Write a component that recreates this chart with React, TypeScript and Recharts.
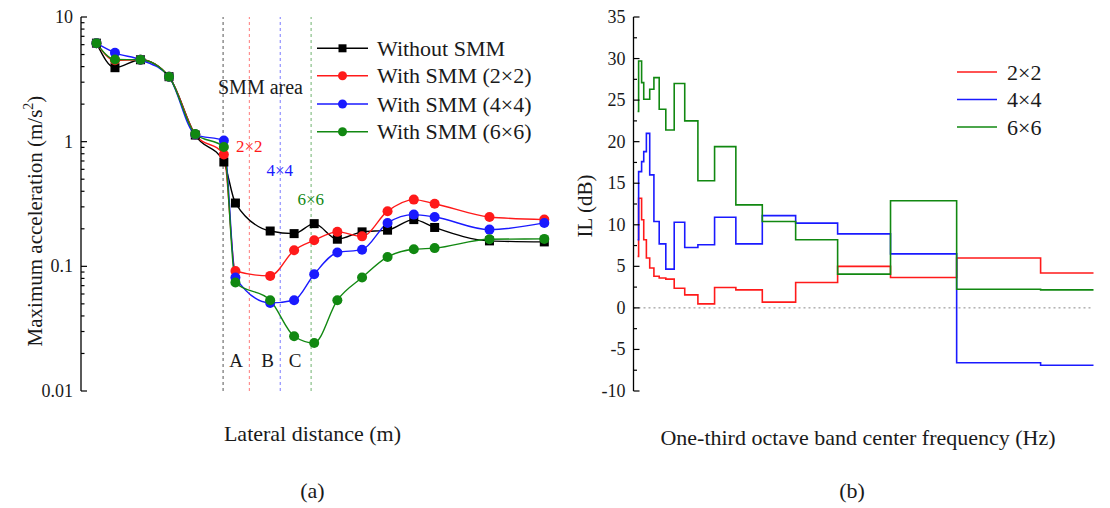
import React from 'react';
import { LineChart, Line, XAxis, YAxis, ReferenceLine } from 'recharts';

// ---------- (a) Maximum acceleration vs lateral distance ----------
const distance = [2, 4.4, 7.7, 11.4, 14.8, 18.5, 20, 24.5, 27.6, 30.2, 33.2, 36.4, 39.7, 43.1, 45.8, 52.9, 60];
const withoutSMM = [6.17, 3.92, 4.54, 3.32, 1.13, 0.687, 0.322, 0.192, 0.183, 0.22, 0.165, 0.189, 0.195, 0.237, 0.205, 0.16, 0.157];
const withSMM2 = [6.17, 4.5, 4.54, 3.32, 1.14, 0.79, 0.0918, 0.0838, 0.1345, 0.162, 0.189, 0.174, 0.277, 0.343, 0.318, 0.249, 0.237];
const withSMM4 = [6.17, 5.16, 4.54, 3.32, 1.14, 1.02, 0.0813, 0.0509, 0.0535, 0.0865, 0.129, 0.136, 0.223, 0.26, 0.249, 0.197, 0.223];
const withSMM6 = [6.17, 4.56, 4.54, 3.32, 1.15, 0.906, 0.0741, 0.0535, 0.0275, 0.0243, 0.0535, 0.0813, 0.119, 0.137, 0.14, 0.165, 0.166];

// SMM area boundaries (m)
const areaEdge = 18.4;
const edge2 = 21.8;
const edge4 = 25.8;
const edge6 = 29.8;

const distanceTicks = [0, 5, 10, 15, 20, 25, 30, 35, 40, 45, 50, 55, 60];
const accelTicks = [
  0.01, 0.02, 0.03, 0.04, 0.05, 0.06, 0.07, 0.08, 0.09,
  0.1, 0.2, 0.3, 0.4, 0.5, 0.6, 0.7, 0.8, 0.9,
  1, 2, 3, 4, 5, 6, 7, 8, 9, 10,
];

// ---------- (b) Insertion loss per one-third octave band ----------
// lower band edge of each band (Hz); the last band is cut at the axis end
const bandLower = [0.71, 0.89, 1.12, 1.41, 1.78, 2.24, 2.82, 3.55, 4.47, 5.62, 7.08, 8.91, 11.2, 14.1, 17.8, 22.4, 28.2, 35.5, 44.7, 56.2, 70.8];
const freqEnd = 80;
const il2 = [6.2, 13.2, 13.2, 10.6, 8.2, 6.0, 4.8, 3.8, 3.6, 3.46, 2.37, 1.57, 0.48, 2.45, 2.17, 0.69, 3.05, 5.0, 3.65, 6.0, 4.2];
const il4 = [8.2, 16.4, 16.4, 17.6, 18.8, 21.0, 16.0, 10.4, 7.7, 4.66, 10.3, 7.26, 7.6, 10.9, 7.7, 11.1, 10.2, 8.9, 6.5, -6.6, -6.9];
const il6 = [23.65, 29.7, 29.7, 27.1, 25.1, 25.1, 26.3, 27.7, 23.9, 21.4, 27.0, 22.5, 15.3, 19.4, 12.4, 10.4, 8.2, 4.06, 12.9, 2.25, 2.17];

const freqTicks = [0, 5, 10, 15, 20, 25, 30, 35, 40, 45, 50, 55, 60, 65, 70, 75, 80];
const ilTicks = [-10, -7.5, -5, -2.5, 0, 2.5, 5, 7.5, 10, 12.5, 15, 17.5, 20, 22.5, 25, 27.5, 30, 32.5, 35];

const RED = '#ff1a1a';
const BLUE = '#1a1aff';
const GREEN = '#118811';
const BLACK = '#000000';
const SERIF = "'Liberation Serif', 'Times New Roman', serif";
const TEXT = '#1a1a1a';

const accelRows = distance.map((x, i) => ({
  x,
  a: withoutSMM[i],
  b: withSMM2[i],
  c: withSMM4[i],
  d: withSMM6[i],
}));

const ilRows = [
  ...bandLower.map((f, i) => ({ f, r: il2[i], b: il4[i], g: il6[i] })),
  { f: freqEnd, r: il2[il2.length - 1], b: il4[il4.length - 1], g: il6[il6.length - 1] },
];

type Side = 'left' | 'right' | 'top' | 'bottom';

// Inward tick marks (long for major, short for minor), labels only on the primary axes
function makeTick(side: Side, isMajor: (v: number) => boolean, showLabel: boolean, fmt: (v: number) => string) {
  return (props: any) => {
    const { x, y, payload, index } = props;
    const v = payload.value as number;
    const major = isMajor(v);
    const len = major ? 6 : 3.5;
    let line: React.ReactNode = null;
    let label: React.ReactNode = null;
    if (side === 'left') {
      line = <line x1={x} y1={y} x2={x + len} y2={y} stroke="#000" strokeWidth={1.2} />;
      if (showLabel && major)
        label = (
          <text x={x - 8} y={y} textAnchor="end" dominantBaseline="central" fontFamily={SERIF} fontSize={18} fill={TEXT}>
            {fmt(v)}
          </text>
        );
    } else if (side === 'right') {
      line = <line x1={x} y1={y} x2={x - len} y2={y} stroke="#000" strokeWidth={1.2} />;
    } else if (side === 'top') {
      line = <line x1={x} y1={y} x2={x} y2={y + len} stroke="#000" strokeWidth={1.2} />;
    } else {
      line = <line x1={x} y1={y} x2={x} y2={y - len} stroke="#000" strokeWidth={1.2} />;
      if (showLabel && major)
        label = (
          <text x={x} y={y + 17} textAnchor="middle" dominantBaseline="central" fontFamily={SERIF} fontSize={18} fill={TEXT}>
            {fmt(v)}
          </text>
        );
    }
    return (
      <g key={`t-${side}-${index}`}>
        {line}
        {label}
      </g>
    );
  };
}

const decade = (v: number) => Math.abs(Math.log10(v) - Math.round(Math.log10(v))) < 1e-6;
const every10 = (v: number) => Math.abs(v % 10) < 1e-6;
const every5 = (v: number) => Math.abs(v % 5) < 1e-6;
const plain = (v: number) => String(v);

const squareDot = (props: any) => {
  const { cx, cy, index } = props;
  if (cx == null || cy == null) return <g key={`sq-${index}`} />;
  return <rect key={`sq-${index}`} x={cx - 4.5} y={cy - 4.5} width={9} height={9} fill={BLACK} />;
};

const circleDot = (color: string) => ({ r: 5, fill: color, stroke: color, strokeWidth: 0 });

const axisLine = { stroke: '#000', strokeWidth: 1.3 };

function AccelChart() {
  return (
    <LineChart
      width={560}
      height={508}
      data={accelRows}
      margin={{ top: 17, right: 15.7, bottom: 117, left: 0 }}
    >
      <XAxis
        xAxisId="b"
        dataKey="x"
        type="number"
        domain={[0, 60]}
        ticks={distanceTicks}
        interval={0}
        height={0}
        tickSize={0}
        tickMargin={0}
        tickLine={false}
        axisLine={axisLine}
        tick={makeTick('bottom', every10, true, plain)}
      />
      <XAxis
        xAxisId="t"
        orientation="top"
        type="number"
        domain={[0, 60]}
        ticks={distanceTicks}
        interval={0}
        height={0}
        tickSize={0}
        tickMargin={0}
        tickLine={false}
        axisLine={axisLine}
        tick={makeTick('top', every10, false, plain)}
      />
      <YAxis
        yAxisId="l"
        type="number"
        scale="log"
        domain={[0.01, 10]}
        allowDataOverflow
        ticks={accelTicks}
        interval={0}
        width={81}
        tickSize={0}
        tickMargin={0}
        tickLine={false}
        axisLine={axisLine}
        tick={makeTick('left', decade, true, plain)}
      />
      <YAxis
        yAxisId="r"
        orientation="right"
        type="number"
        scale="log"
        domain={[0.01, 10]}
        allowDataOverflow
        ticks={accelTicks}
        interval={0}
        width={0}
        tickSize={0}
        tickMargin={0}
        tickLine={false}
        axisLine={axisLine}
        tick={makeTick('right', decade, false, plain)}
      />
      <ReferenceLine xAxisId="b" yAxisId="l" x={areaEdge} stroke="#555" strokeDasharray="3 3" strokeWidth={1} />
      <ReferenceLine xAxisId="b" yAxisId="l" x={edge2} stroke="#ff7a7a" strokeDasharray="3 3" strokeWidth={1} />
      <ReferenceLine xAxisId="b" yAxisId="l" x={edge4} stroke="#7a7aff" strokeDasharray="3 3" strokeWidth={1} />
      <ReferenceLine xAxisId="b" yAxisId="l" x={edge6} stroke="#6fb36f" strokeDasharray="3 3" strokeWidth={1} />
      <Line xAxisId="b" yAxisId="l" type="monotone" dataKey="a" stroke={BLACK} strokeWidth={1.4} dot={squareDot} isAnimationActive={false} />
      <Line xAxisId="b" yAxisId="l" type="monotone" dataKey="b" stroke={RED} strokeWidth={1.4} dot={circleDot(RED)} isAnimationActive={false} />
      <Line xAxisId="b" yAxisId="l" type="monotone" dataKey="c" stroke={BLUE} strokeWidth={1.4} dot={circleDot(BLUE)} isAnimationActive={false} />
      <Line xAxisId="b" yAxisId="l" type="monotone" dataKey="d" stroke={GREEN} strokeWidth={1.4} dot={circleDot(GREEN)} isAnimationActive={false} />
    </LineChart>
  );
}

function ILChart() {
  return (
    <LineChart
      width={550}
      height={508}
      data={ilRows}
      margin={{ top: 17, right: 16.5, bottom: 117, left: 0 }}
    >
      <XAxis
        xAxisId="b"
        dataKey="f"
        type="number"
        domain={[0, 80]}
        ticks={freqTicks}
        interval={0}
        height={0}
        tickSize={0}
        tickMargin={0}
        tickLine={false}
        axisLine={axisLine}
        tick={makeTick('bottom', every10, true, plain)}
      />
      <XAxis
        xAxisId="t"
        orientation="top"
        type="number"
        domain={[0, 80]}
        ticks={freqTicks}
        interval={0}
        height={0}
        tickSize={0}
        tickMargin={0}
        tickLine={false}
        axisLine={axisLine}
        tick={makeTick('top', every10, false, plain)}
      />
      <YAxis
        yAxisId="l"
        type="number"
        domain={[-10, 35]}
        allowDataOverflow
        ticks={ilTicks}
        interval={0}
        width={73.5}
        tickSize={0}
        tickMargin={0}
        tickLine={false}
        axisLine={axisLine}
        tick={makeTick('left', every5, true, plain)}
      />
      <YAxis
        yAxisId="r"
        orientation="right"
        type="number"
        domain={[-10, 35]}
        allowDataOverflow
        ticks={ilTicks}
        interval={0}
        width={0}
        tickSize={0}
        tickMargin={0}
        tickLine={false}
        axisLine={axisLine}
        tick={makeTick('right', every5, false, plain)}
      />
      <ReferenceLine xAxisId="b" yAxisId="l" y={0} stroke="#888" strokeDasharray="2 3" strokeWidth={1} />
      <Line xAxisId="b" yAxisId="l" type="stepAfter" dataKey="r" stroke={RED} strokeWidth={1.6} dot={false} isAnimationActive={false} />
      <Line xAxisId="b" yAxisId="l" type="stepAfter" dataKey="b" stroke={BLUE} strokeWidth={1.6} dot={false} isAnimationActive={false} />
      <Line xAxisId="b" yAxisId="l" type="stepAfter" dataKey="g" stroke={GREEN} strokeWidth={1.6} dot={false} isAnimationActive={false} />
    </LineChart>
  );
}

const accelLegend = [
  { name: 'Without SMM', color: BLACK, square: true },
  { name: 'With SMM (2×2)', color: RED, square: false },
  { name: 'With SMM (4×4)', color: BLUE, square: false },
  { name: 'With SMM (6×6)', color: GREEN, square: false },
];
const ilLegend = [
  { name: '2×2', color: RED },
  { name: '4×4', color: BLUE },
  { name: '6×6', color: GREEN },
];

function Annotations() {
  const t = { fontFamily: SERIF, fill: TEXT, dominantBaseline: 'central' as const };
  const legendY = [48.3, 75.7, 104, 131.7];
  const ilLegendY = [72, 99.5, 127];
  return (
    <svg width={1110} height={508} style={{ position: 'absolute', left: 0, top: 0, pointerEvents: 'none' }}>
      {/* legend (a) */}
      {accelLegend.map((s, i) => (
        <g key={s.name}>
          <line x1={317} y1={legendY[i]} x2={368} y2={legendY[i]} stroke={s.color} strokeWidth={1.4} />
          {s.square ? (
            <rect x={342.5 - 4} y={legendY[i] - 4} width={8} height={8} fill={s.color} />
          ) : (
            <circle cx={342.5} cy={legendY[i]} r={4.5} fill={s.color} />
          )}
          <text {...t} x={377} y={legendY[i]} fontSize={22}>
            {s.name}
          </text>
        </g>
      ))}
      {/* area labels (a) */}
      <text {...t} x={218} y={87} fontSize={20}>SMM area</text>
      <text {...t} x={236} y={146} fontSize={17} fill={RED}>2×2</text>
      <text {...t} x={266.5} y={170} fontSize={17} fill={BLUE}>4×4</text>
      <text {...t} x={297.5} y={199} fontSize={17} fill={GREEN}>6×6</text>
      <text {...t} x={236} y={360} fontSize={19} textAnchor="middle">A</text>
      <text {...t} x={267.5} y={360} fontSize={19} textAnchor="middle">B</text>
      <text {...t} x={295} y={360} fontSize={19} textAnchor="middle">C</text>
      {/* axis titles (a) */}
      <text {...t} x={312.5} y={433} fontSize={22} textAnchor="middle">Lateral distance (m)</text>
      <text {...t} transform="translate(35,221) rotate(-90)" fontSize={21} textAnchor="middle">
        Maximum acceleration (m/s<tspan dy={-7} fontSize={14}>2</tspan>
        <tspan dy={7}>)</tspan>
      </text>
      <text {...t} x={312.5} y={490} fontSize={22} textAnchor="middle">(a)</text>

      {/* legend (b) */}
      {ilLegend.map((s, i) => (
        <g key={s.name}>
          <line x1={957} y1={ilLegendY[i]} x2={997} y2={ilLegendY[i]} stroke={s.color} strokeWidth={1.6} />
          <text {...t} x={1007} y={ilLegendY[i]} fontSize={22}>{s.name}</text>
        </g>
      ))}
      {/* axis titles (b) */}
      <text {...t} x={858} y={437} fontSize={22} textAnchor="middle">One-third octave band center frequency (Hz)</text>
      <text {...t} transform="translate(585,206) rotate(-90)" fontSize={21} textAnchor="middle">IL (dB)</text>
      <text {...t} x={852} y={490} fontSize={22} textAnchor="middle">(b)</text>
    </svg>
  );
}

export default function App() {
  return (
    <div style={{ position: 'absolute', left: 0, top: 0, width: 1110, height: 508, background: '#fff', overflow: 'hidden' }}>
      <div style={{ position: 'absolute', left: 0, top: 0 }}>
        <AccelChart />
      </div>
      <div style={{ position: 'absolute', left: 560, top: 0 }}>
        <ILChart />
      </div>
      <Annotations />
    </div>
  );
}
